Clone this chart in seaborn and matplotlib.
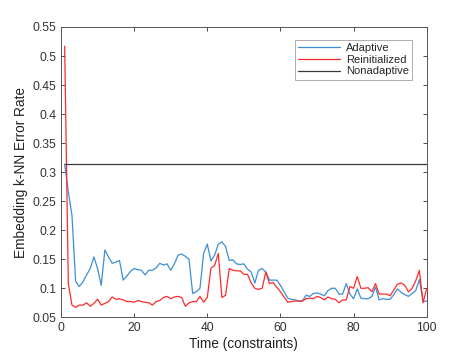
import numpy as np
import pandas as pd
import seaborn as sns
import matplotlib
matplotlib.use("Agg")
import matplotlib.pyplot as plt

# error rates, t = 1..100
time = list(range(1, 101))
adaptive = [
    0.314, 0.266, 0.226, 0.112, 0.103, 0.111, 0.123, 0.134, 0.154, 0.134,
    0.105, 0.166, 0.154, 0.143, 0.145, 0.148, 0.114, 0.121, 0.129, 0.134,
    0.132, 0.131, 0.123, 0.131, 0.131, 0.135, 0.143, 0.140, 0.142, 0.131,
    0.142, 0.157, 0.159, 0.155, 0.150, 0.091, 0.094, 0.100, 0.160, 0.176,
    0.147, 0.157, 0.176, 0.180, 0.172, 0.148, 0.149, 0.142, 0.141, 0.142,
    0.133, 0.128, 0.109, 0.131, 0.134, 0.128, 0.114, 0.114, 0.114, 0.105,
    0.094, 0.083, 0.081, 0.080, 0.078, 0.078, 0.088, 0.086, 0.091, 0.092,
    0.090, 0.087, 0.096, 0.100, 0.100, 0.090, 0.090, 0.108, 0.090, 0.082,
    0.099, 0.083, 0.082, 0.082, 0.086, 0.102, 0.080, 0.082, 0.081, 0.081,
    0.089, 0.099, 0.093, 0.089, 0.086, 0.091, 0.096, 0.115, 0.077, 0.078,
]
reinitialized = [
    0.517, 0.108, 0.071, 0.067, 0.071, 0.071, 0.075, 0.069, 0.074, 0.081,
    0.071, 0.074, 0.077, 0.085, 0.081, 0.082, 0.080, 0.077, 0.077, 0.076,
    0.079, 0.077, 0.076, 0.075, 0.071, 0.077, 0.079, 0.084, 0.086, 0.082,
    0.085, 0.086, 0.084, 0.069, 0.075, 0.077, 0.077, 0.086, 0.076, 0.084,
    0.135, 0.139, 0.160, 0.084, 0.088, 0.134, 0.131, 0.130, 0.130, 0.124,
    0.124, 0.109, 0.100, 0.098, 0.100, 0.128, 0.108, 0.110, 0.102, 0.094,
    0.085, 0.076, 0.077, 0.078, 0.078, 0.078, 0.082, 0.083, 0.082, 0.086,
    0.084, 0.080, 0.085, 0.082, 0.081, 0.075, 0.080, 0.080, 0.103, 0.100,
    0.120, 0.100, 0.100, 0.101, 0.094, 0.108, 0.090, 0.090, 0.090, 0.087,
    0.097, 0.107, 0.109, 0.105, 0.094, 0.100, 0.113, 0.131, 0.075, 0.100,
]
nonadaptive = [0.314] * 100

df = pd.DataFrame({
    "Time": time * 3,
    "Error": adaptive + reinitialized + nonadaptive,
    "Method": ["Adaptive"] * 100 + ["Reinitialized"] * 100 + ["Nonadaptive"] * 100,
})

sns.set_style("ticks")
plt.rcParams["font.family"] = ["Liberation Sans", "DejaVu Sans"]
plt.rcParams["xtick.direction"] = "in"
plt.rcParams["ytick.direction"] = "in"

fig = plt.figure(figsize=(4.71, 3.58), dpi=100)
ax = fig.add_axes([0.1295, 0.1137, 0.7765, 0.8109])

palette = {"Adaptive": "#3c8fd4", "Reinitialized": "#ff2a2a", "Nonadaptive": "#3a3a3a"}
sns.lineplot(data=df, x="Time", y="Error", hue="Method", palette=palette,
             linewidth=0.9, ax=ax)

ax.set_xlim(0, 100)
ax.set_ylim(0.05, 0.55)
ax.set_xticks([0, 20, 40, 60, 80, 100])
ax.set_yticks(np.arange(0.05, 0.551, 0.05))
ax.set_yticklabels(["0.05", "0.1", "0.15", "0.2", "0.25", "0.3", "0.35",
                    "0.4", "0.45", "0.5", "0.55"])
ax.tick_params(labelsize=8.7, colors="#333333", length=3, width=0.6,
               top=True, right=True)
for s in ax.spines.values():
    s.set_color("#555555")
    s.set_linewidth(0.7)
ax.set_xlabel("Time (constraints)", fontsize=9.8, color="#222222", labelpad=2)
ax.set_ylabel("Embedding k-NN Error Rate", fontsize=9.8, color="#222222", labelpad=3)

leg = ax.legend(loc="upper right", bbox_to_anchor=(0.975, 0.975), fontsize=8,
                frameon=True, fancybox=False, edgecolor="#888888",
                handlelength=3.8, borderpad=0.3, labelspacing=0.15,
                handletextpad=0.5)
leg.get_frame().set_linewidth(0.6)

fig.savefig("out.png", dpi=100)
